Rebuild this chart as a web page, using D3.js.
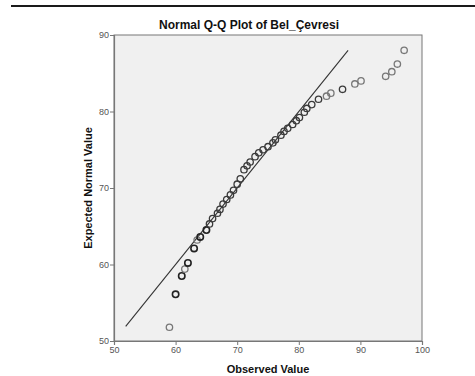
<!DOCTYPE html>
<html><head><meta charset="utf-8">
<script src="https://cdn.jsdelivr.net/npm/d3@7"></script>
<style>
body{margin:0;background:#fff;}
svg{display:block;font-family:"Liberation Sans",Arial,sans-serif;}
</style></head>
<body><svg id="c" width="475" height="376"></svg>
<script>
const title = "Normal Q-Q Plot of Bel_Çevresi";
const xTitle = "Observed Value";
const yTitle = "Expected Normal Value";
const xTicks = [50, 60, 70, 80, 90, 100];
const yTicks = [50, 60, 70, 80, 90];
const observed = [59, 60, 61, 61.5, 62, 63, 63.5, 64, 65, 65.5, 66, 66.8, 67.2, 67.7, 68.3, 68.9, 69.4, 70, 70.5, 71.1, 71.6, 72.1, 72.9, 73.5, 74.2, 75, 75.8, 76.2, 77.1, 77.6, 78.2, 79, 79.6, 80.1, 80.9, 81.3, 82.1, 83.2, 84.5, 85.2, 87.1, 89.1, 90.1, 94.1, 95.1, 96.0, 97.1];
const expected = [51.8, 56.1, 58.5, 59.4, 60.2, 62.1, 63.2, 63.6, 64.5, 65.3, 66.0, 66.7, 67.2, 67.9, 68.5, 69.1, 69.7, 70.5, 71.2, 72.4, 72.9, 73.4, 74.1, 74.6, 75.0, 75.4, 75.9, 76.3, 76.9, 77.4, 77.8, 78.3, 78.8, 79.2, 79.9, 80.4, 80.9, 81.6, 82.0, 82.4, 82.9, 83.6, 84.0, 84.6, 85.2, 86.2, 88.0];
const counts = [1, 3, 3, 1, 3, 3, 1, 3, 3, 2, 2, 2, 2, 2, 2, 2, 2, 2, 2, 2, 2, 2, 2, 2, 2, 2, 2, 2, 2, 2, 2, 2, 2, 2, 2, 2, 2, 2, 1, 1, 2, 1, 1, 1, 1, 1, 1];
const refLine = [51.9, 88.0];

const svg = d3.select("#c");
const L = 114, R = 422, T = 35, B = 341;
const x = d3.scaleLinear().domain([50, 100]).range([L, R]);
const y = d3.scaleLinear().domain([50, 90]).range([B, T]);

// top rule
svg.append("line").attr("x1", 11).attr("x2", 475).attr("y1", 6).attr("y2", 6)
  .attr("stroke", "#1a1a1a").attr("stroke-width", 2);

// plot background
svg.append("rect").attr("x", L).attr("y", T).attr("width", R - L).attr("height", B - T)
  .attr("fill", "#f0f0f0").attr("stroke", "#777").attr("stroke-width", 1);

// axes
const xa = svg.append("g").attr("transform", `translate(0,${B})`)
  .call(d3.axisBottom(x).tickValues(xTicks).tickSize(4).tickPadding(2).tickFormat(d3.format("d")));
const ya = svg.append("g").attr("transform", `translate(${L},0)`)
  .call(d3.axisLeft(y).tickValues(yTicks).tickSize(4).tickPadding(1).tickFormat(d3.format("d")));
[xa, ya].forEach(a => {
  a.select(".domain").attr("stroke", "#777").attr("stroke-width", 1.2);
  a.selectAll(".tick line").attr("stroke", "#777");
  a.selectAll(".tick text").attr("fill", "#555").style("font-size", "9px");
});

// reference line
svg.append("line")
  .attr("x1", x(refLine[0])).attr("y1", y(refLine[0]))
  .attr("x2", x(refLine[1])).attr("y2", y(refLine[1]))
  .attr("stroke", "#333").attr("stroke-width", 1.1);

// points
const pts = observed.map((o, i) => ({o, e: expected[i], c: counts[i]}));
svg.append("g").selectAll("circle").data(pts).join("circle")
  .attr("cx", d => x(d.o)).attr("cy", d => y(d.e)).attr("r", 3.2)
  .attr("fill", "none")
  .attr("stroke", d => d.c >= 3 ? "#222" : d.c === 2 ? "#3a3a3a" : "#777")
  .attr("stroke-width", d => d.c >= 3 ? 1.6 : 1.3);

// titles
svg.append("text").attr("x", 249).attr("y", 29).attr("text-anchor", "middle")
  .style("font-size", "12px").style("font-weight", "bold").attr("fill", "#111").text(title);
svg.append("text").attr("x", 268).attr("y", 373).attr("text-anchor", "middle")
  .style("font-size", "11px").style("font-weight", "bold").attr("fill", "#111").text(xTitle);
svg.append("text").attr("transform", `translate(92,${(T + B) / 2}) rotate(-90)`).attr("text-anchor", "middle")
  .style("font-size", "11px").style("font-weight", "bold").attr("fill", "#111").text(yTitle);
</script></body></html>
